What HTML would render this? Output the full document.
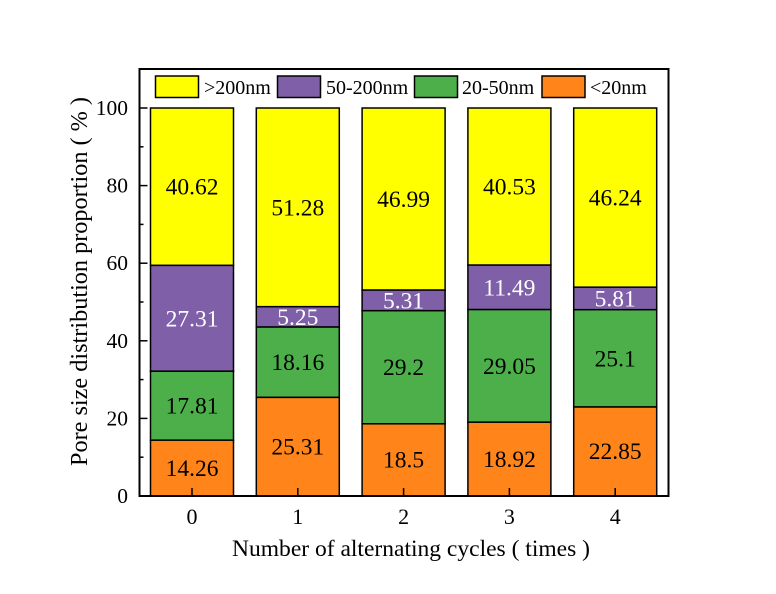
<!DOCTYPE html>
<html><head><meta charset="utf-8"><style>
html,body{margin:0;padding:0;background:#fff;}
svg{display:block;}
text{font-family:"Liberation Serif","Times New Roman",serif;fill:#000;}
</style></head><body>
<svg width="776" height="594" viewBox="0 0 776 594" xmlns="http://www.w3.org/2000/svg">
<rect x="0" y="0" width="776" height="594" fill="#fff"/>
<g stroke="#000" stroke-width="1.5">
<!-- Bar 0 -->
<rect x="150.5" y="108" width="83" height="157.4" fill="#FFFF00"/>
<rect x="150.5" y="265.4" width="83" height="105.8" fill="#7F5FA8"/>
<rect x="150.5" y="371.2" width="83" height="69" fill="#4DAF4A"/>
<rect x="150.5" y="440.2" width="83" height="55.8" fill="#FF8419"/>
<!-- Bar 1 -->
<rect x="256.3" y="108" width="83" height="198.7" fill="#FFFF00"/>
<rect x="256.3" y="306.7" width="83" height="20.35" fill="#7F5FA8"/>
<rect x="256.3" y="327.05" width="83" height="70.35" fill="#4DAF4A"/>
<rect x="256.3" y="397.4" width="83" height="98.6" fill="#FF8419"/>
<!-- Bar 2 -->
<rect x="362.1" y="108" width="83" height="182.1" fill="#FFFF00"/>
<rect x="362.1" y="290.1" width="83" height="20.6" fill="#7F5FA8"/>
<rect x="362.1" y="310.7" width="83" height="113.1" fill="#4DAF4A"/>
<rect x="362.1" y="423.8" width="83" height="72.2" fill="#FF8419"/>
<!-- Bar 3 -->
<rect x="467.9" y="108" width="83" height="157.1" fill="#FFFF00"/>
<rect x="467.9" y="265.1" width="83" height="44.5" fill="#7F5FA8"/>
<rect x="467.9" y="309.6" width="83" height="112.6" fill="#4DAF4A"/>
<rect x="467.9" y="422.2" width="83" height="73.8" fill="#FF8419"/>
<!-- Bar 4 -->
<rect x="573.7" y="108" width="83" height="179.2" fill="#FFFF00"/>
<rect x="573.7" y="287.2" width="83" height="22.5" fill="#7F5FA8"/>
<rect x="573.7" y="309.7" width="83" height="97.3" fill="#4DAF4A"/>
<rect x="573.7" y="407" width="83" height="89" fill="#FF8419"/>
</g>

<!-- value labels -->
<g font-size="23.5" text-anchor="middle">
<text x="192" y="194.7">40.62</text>
<text x="192" y="326.3" fill="#fff" style="fill:#fff">27.31</text>
<text x="192" y="413.7">17.81</text>
<text x="192" y="475.9">14.26</text>

<text x="297.8" y="215.4">51.28</text>
<text x="297.8" y="324.9" style="fill:#fff">5.25</text>
<text x="297.8" y="370.2">18.16</text>
<text x="297.8" y="454.5">25.31</text>

<text x="403.6" y="207">46.99</text>
<text x="403.6" y="308.4" style="fill:#fff">5.31</text>
<text x="403.6" y="375.2">29.2</text>
<text x="403.6" y="467.7">18.5</text>

<text x="509.4" y="194.5">40.53</text>
<text x="509.4" y="295.4" style="fill:#fff">11.49</text>
<text x="509.4" y="373.9">29.05</text>
<text x="509.4" y="466.8">18.92</text>

<text x="615.2" y="205.6">46.24</text>
<text x="615.2" y="306.4" style="fill:#fff">5.81</text>
<text x="615.2" y="366.3">25.1</text>
<text x="615.2" y="459.2">22.85</text>
</g>

<!-- frame -->
<rect x="139.5" y="69" width="529" height="427" fill="none" stroke="#000" stroke-width="2"/>

<!-- y ticks -->
<g stroke="#000" stroke-width="1.5">
<line x1="139.5" y1="496" x2="147.5" y2="496"/>
<line x1="139.5" y1="418.4" x2="147.5" y2="418.4"/>
<line x1="139.5" y1="340.8" x2="147.5" y2="340.8"/>
<line x1="139.5" y1="263.2" x2="147.5" y2="263.2"/>
<line x1="139.5" y1="185.6" x2="147.5" y2="185.6"/>
<line x1="139.5" y1="108" x2="147.5" y2="108"/>
<line x1="139.5" y1="457.2" x2="143.5" y2="457.2"/>
<line x1="139.5" y1="379.6" x2="143.5" y2="379.6"/>
<line x1="139.5" y1="302" x2="143.5" y2="302"/>
<line x1="139.5" y1="224.4" x2="143.5" y2="224.4"/>
<line x1="139.5" y1="146.8" x2="143.5" y2="146.8"/>
<!-- x ticks -->
<line x1="192" y1="496" x2="192" y2="488"/>
<line x1="297.8" y1="496" x2="297.8" y2="488"/>
<line x1="403.6" y1="496" x2="403.6" y2="488"/>
<line x1="509.4" y1="496" x2="509.4" y2="488"/>
<line x1="615.2" y1="496" x2="615.2" y2="488"/>
</g>

<!-- y tick labels -->
<g font-size="21.5" text-anchor="end">
<text x="128" y="503">0</text>
<text x="128" y="425.4">20</text>
<text x="128" y="347.8">40</text>
<text x="128" y="270.2">60</text>
<text x="128" y="192.6">80</text>
<text x="128" y="115">100</text>
</g>

<!-- x tick labels -->
<g font-size="22" text-anchor="middle">
<text x="192" y="524">0</text>
<text x="297.8" y="524">1</text>
<text x="403.6" y="524">2</text>
<text x="509.4" y="524">3</text>
<text x="615.2" y="524">4</text>
</g>

<!-- axis titles -->
<text x="232" y="556" font-size="23.5" textLength="358" lengthAdjust="spacingAndGlyphs">Number of alternating cycles ( times )</text>
<text transform="translate(87,466) rotate(-90)" x="0" y="0" font-size="24" textLength="369" lengthAdjust="spacingAndGlyphs">Pore size distribution proportion ( % )</text>

<!-- legend -->
<g stroke="#000" stroke-width="1.5">
<rect x="155.5" y="76" width="43" height="21.5" fill="#FFFF00"/>
<rect x="277.5" y="76" width="43" height="21.5" fill="#7F5FA8"/>
<rect x="414.5" y="76" width="43" height="21.5" fill="#4DAF4A"/>
<rect x="542" y="76" width="43" height="21.5" fill="#FF8419"/>
</g>
<g font-size="20">
<text x="204" y="94">&gt;200nm</text>
<text x="326" y="94">50-200nm</text>
<text x="462" y="94">20-50nm</text>
<text x="590" y="94">&lt;20nm</text>
</g>
</svg>
</body></html>
